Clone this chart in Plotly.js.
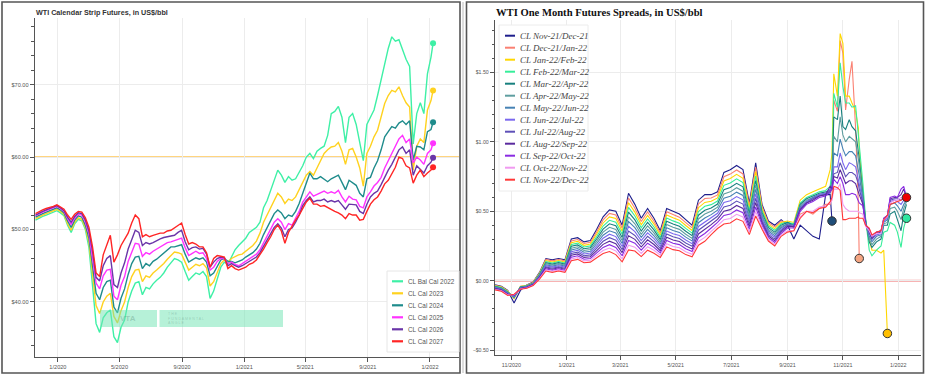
<!DOCTYPE html>
<html><head><meta charset="utf-8">
<script src="https://cdn.plot.ly/plotly-3.0.1.min.js"></script>
<style>html,body{margin:0;padding:0;background:#fff}#chart{width:925px;height:377px}</style>
</head><body><div id="chart"></div>
<script>
// ---------------- LEFT CHART DATA: WTI Calendar Strip Futures (US$/bbl), weekly samples ----------------
const leftDates = [
'2019-11-18','2019-11-25','2019-12-02','2019-12-09','2019-12-16','2019-12-23','2019-12-30',
'2020-01-06','2020-01-13','2020-01-20','2020-01-27','2020-02-03','2020-02-10','2020-02-17','2020-02-24',
'2020-03-02','2020-03-09','2020-03-16','2020-03-23','2020-03-30','2020-04-06','2020-04-13','2020-04-20','2020-04-27',
'2020-05-04','2020-05-11','2020-05-18','2020-05-25','2020-06-01','2020-06-08','2020-06-15','2020-06-22','2020-06-29',
'2020-07-06','2020-07-13','2020-07-20','2020-07-27','2020-08-03','2020-08-10','2020-08-17','2020-08-24','2020-08-31',
'2020-09-07','2020-09-14','2020-09-21','2020-09-28','2020-10-05','2020-10-12','2020-10-19','2020-10-26',
'2020-11-02','2020-11-09','2020-11-16','2020-11-23','2020-11-30','2020-12-07','2020-12-14','2020-12-21','2020-12-28',
'2021-01-04','2021-01-11','2021-01-18','2021-01-25','2021-02-01','2021-02-08','2021-02-15','2021-02-22',
'2021-03-01','2021-03-08','2021-03-15','2021-03-22','2021-03-29','2021-04-05','2021-04-12','2021-04-19','2021-04-26',
'2021-05-03','2021-05-10','2021-05-17','2021-05-24','2021-05-31','2021-06-07','2021-06-14','2021-06-21','2021-06-28',
'2021-07-05','2021-07-12','2021-07-19','2021-07-26','2021-08-02','2021-08-09','2021-08-16','2021-08-23','2021-08-30',
'2021-09-06','2021-09-13','2021-09-20','2021-09-27','2021-10-04','2021-10-11','2021-10-18','2021-10-25',
'2021-11-01','2021-11-08','2021-11-15','2021-11-22','2021-11-29','2021-12-06','2021-12-13','2021-12-20','2021-12-27',
'2022-01-03','2022-01-07'];

const leftNames = ['CL Bal Cal 2022','CL Cal 2023','CL Cal 2024','CL Cal 2025','CL Cal 2026','CL Cal 2027'];

const balCal2022 = [51.3,51.6,51.8,52.0,52.2,52.4,52.6,52.3,51.9,
 50.6,49.6,50.8,51.4,51.2,50.0,47.5,
 42.5,37.0,35.8,37.8,38.5,38.9,35.2,34.4,
 36.5,37.5,40.0,41.5,42.6,42.8,41.0,42.0,41.8,
 42.5,43.0,43.4,44.0,44.8,45.4,46.0,45.8,45.5,
 44.2,43.0,43.5,44.0,43.8,44.2,43.5,40.5,
 41.5,43.2,44.8,45.5,45.2,46.2,47.2,47.8,48.3,
 48.8,49.6,50.0,50.3,51.0,53.0,54.0,55.5,
 57.0,58.2,57.5,56.5,57.3,56.8,57.0,57.8,58.8,
 60.0,60.5,59.8,60.8,61.2,61.5,63.0,66.0,66.3,
 67.0,65.5,62.0,65.5,66.0,64.5,62.0,59.5,64.5,
 65.5,66.5,68.5,70.6,72.5,75.0,76.6,76.0,
 76.2,74.8,73.5,72.5,61.8,66.0,67.5,66.0,71.5,73.8,75.7];
const cal2023 = [51.5,51.8,52.0,52.2,52.4,52.6,52.8,52.5,52.1,
 50.8,49.9,51.0,51.6,51.4,50.3,48.2,
 44.0,39.5,38.4,40.0,40.8,41.2,38.0,37.1,
 38.8,40.0,42.0,43.5,44.4,44.5,42.8,43.6,43.4,
 44.0,44.4,44.8,45.3,45.9,46.4,46.9,46.8,46.6,
 45.5,44.4,44.8,45.2,45.0,45.3,44.7,42.2,
 42.8,44.0,45.3,45.8,45.5,46.0,46.3,46.5,46.6,
 47.0,47.4,47.8,48.4,49.5,51.0,52.0,53.1,
 54.2,55.0,54.5,53.6,54.2,54.0,54.5,55.5,56.5,
 57.5,58.0,57.5,58.5,59.5,60.5,61.0,61.4,61.5,
 62.0,60.8,59.0,61.0,61.2,60.0,58.5,56.0,60.5,
 61.5,62.8,63.7,65.5,67.4,68.5,69.2,69.0,
 69.7,68.5,67.5,66.9,58.2,61.5,62.5,62.0,66.5,67.8,69.2];
const cal2024 = [51.7,52.0,52.2,52.4,52.6,52.8,53.0,52.7,52.3,
 51.2,50.3,51.3,51.9,51.7,50.6,48.8,
 45.3,41.2,40.3,42.0,42.8,43.0,39.3,38.5,
 40.5,41.8,43.8,45.3,46.2,46.3,44.6,45.3,45.0,
 45.6,45.9,46.3,46.7,47.2,47.6,47.6,47.8,47.9,
 46.6,45.5,45.8,46.1,45.9,46.1,45.5,43.6,
 44.0,45.0,45.8,46.0,45.6,45.6,45.4,45.6,45.8,
 46.2,46.5,46.8,47.3,48.1,49.3,50.3,51.3,
 52.2,52.7,52.3,51.5,52.0,51.8,52.5,53.6,55.0,
 56.5,57.8,57.0,57.0,57.3,57.0,56.6,57.0,57.2,
 57.5,56.5,55.5,56.8,56.5,56.1,55.0,54.5,57.0,
 57.2,58.5,59.5,61.0,62.8,63.5,64.2,64.0,
 64.7,65.0,64.5,65.0,59.6,61.5,61.4,61.0,63.5,63.8,64.8];
const cal2025 = [51.9,52.2,52.4,52.6,52.8,53.0,53.2,52.9,52.5,
 51.5,50.7,51.6,52.1,52.0,51.0,49.4,
 46.3,42.6,41.8,43.6,44.4,44.5,40.8,40.3,
 42.3,43.5,45.6,47.0,48.1,48.0,46.3,46.8,46.6,
 47.0,47.3,47.6,47.9,48.2,48.3,48.5,48.7,48.8,
 47.5,46.4,46.7,47.0,46.7,46.8,46.0,44.4,
 44.8,45.6,46.0,46.0,45.3,45.5,45.2,45.0,45.3,
 45.6,46.0,46.2,46.6,47.2,48.2,49.2,50.0,
 51.0,51.5,51.0,50.0,50.8,50.6,51.5,52.5,53.8,
 54.5,55.2,54.6,54.8,55.0,55.3,55.0,55.2,55.0,
 55.4,54.5,53.8,54.6,54.2,54.1,53.2,53.0,54.5,
 55.2,56.0,56.5,57.2,58.5,59.5,60.5,61.5,
 62.5,63.0,62.0,62.5,59.2,60.0,59.6,59.0,60.5,61.0,61.9];
const cal2026 = [52.0,52.3,52.5,52.7,52.9,53.1,53.3,53.0,52.6,
 51.7,51.0,51.8,52.3,52.2,51.3,49.8,
 47.0,43.4,42.9,45.0,46.0,46.4,42.4,42.0,
 44.0,45.4,47.3,48.6,49.9,49.6,47.8,48.2,48.0,
 48.2,48.5,48.7,48.9,49.0,49.0,49.2,49.6,49.9,
 48.3,47.2,47.5,47.6,47.3,47.4,46.6,44.8,
 45.5,46.0,46.2,46.1,45.0,45.3,45.0,44.8,45.0,
 45.3,45.7,45.9,46.2,46.8,47.7,48.6,49.3,
 50.3,50.8,50.2,49.0,50.0,50.2,51.0,52.0,53.3,
 54.0,54.5,53.8,54.0,54.0,54.2,53.8,54.0,53.8,
 54.0,53.4,52.8,53.5,53.4,53.4,52.5,52.2,53.5,
 54.5,55.0,55.3,56.2,57.3,58.2,59.0,60.0,
 61.0,61.4,60.5,61.0,57.5,58.8,58.3,57.8,58.8,59.3,59.9];
const cal2027 = [52.2,52.5,52.7,52.9,53.0,53.2,53.4,53.1,52.8,
 52.0,51.4,52.1,52.5,52.4,51.6,50.3,
 47.6,44.0,43.5,46.5,47.8,49.2,45.5,46.5,
 47.8,48.6,49.5,50.9,52.0,51.5,49.0,49.3,49.0,
 49.2,49.4,49.5,49.5,49.8,49.9,50.2,50.5,50.9,
 49.3,48.0,48.2,48.0,47.6,47.6,46.8,44.8,
 46.0,46.4,46.3,46.2,44.6,45.0,44.6,44.4,44.6,
 44.8,45.2,45.4,45.8,46.5,47.3,48.2,49.0,
 50.0,50.6,49.8,48.1,49.6,50.5,51.3,52.0,53.0,
 53.8,54.3,53.5,53.5,53.2,53.3,53.0,52.8,52.5,
 52.3,52.0,51.5,52.2,52.0,52.0,51.3,51.4,52.5,
 53.5,54.1,54.5,55.3,56.3,56.8,57.8,58.6,
 60.0,59.8,58.8,58.5,56.4,57.5,58.2,57.3,57.8,58.2,58.6];
const leftSeries = [balCal2022, cal2023, cal2024, cal2025, cal2026, cal2027];
const leftColors = ['#3ef0a6','#ffd21f','#1f8c8c','#ff33ff','#6a35a8','#ff2525'];
const leftRefPrice = 60;

// ---------------- RIGHT CHART DATA: WTI One Month Futures Spreads (US$/bbl) ----------------
const rightDates = [
'2020-10-14','2020-10-21','2020-10-28','2020-11-04','2020-11-11','2020-11-18','2020-11-25',
'2020-12-02','2020-12-09','2020-12-16','2020-12-23','2020-12-30',
'2021-01-06','2021-01-13','2021-01-20','2021-01-27','2021-02-03','2021-02-10','2021-02-17','2021-02-24',
'2021-03-03','2021-03-10','2021-03-17','2021-03-24','2021-03-31','2021-04-07','2021-04-14','2021-04-21','2021-04-28',
'2021-05-05','2021-05-12','2021-05-19','2021-05-26','2021-06-02','2021-06-09','2021-06-16','2021-06-23','2021-06-30',
'2021-07-07','2021-07-14','2021-07-21','2021-07-28','2021-08-04','2021-08-11','2021-08-18','2021-08-25',
'2021-09-01','2021-09-08','2021-09-15','2021-09-22','2021-09-29','2021-10-06','2021-10-13',
'2021-10-18','2021-10-20','2021-10-22','2021-10-26','2021-10-29','2021-11-01','2021-11-04','2021-11-08',
'2021-11-11','2021-11-15','2021-11-18','2021-11-19','2021-11-23','2021-11-26','2021-11-30','2021-12-03',
'2021-12-08','2021-12-13','2021-12-16','2021-12-20','2021-12-23','2021-12-28','2021-12-31',
'2022-01-04','2022-01-07','2022-01-10'];

const rightNames = ['CL Nov-21/Dec-21','CL Dec-21/Jan-22','CL Jan-22/Feb-22','CL Feb-22/Mar-22','CL Mar-22/Apr-22',
 'CL Apr-22/May-22','CL May-22/Jun-22','CL Jun-22/Jul-22','CL Jul-22/Aug-22','CL Aug-22/Sep-22','CL Sep-22/Oct-22',
 'CL Oct-22/Nov-22','CL Nov-22/Dec-22'];

const nov21dec21 = [-0.03,-0.04,-0.07,-0.16,-0.07,-0.03,-0.01,0.06,0.16,0.15,
 0.16,0.15,0.30,0.31,0.28,0.29,0.37,0.46,0.51,0.50,
 0.40,0.63,0.55,0.45,0.52,0.45,0.36,0.52,0.50,0.48,
 0.44,0.40,0.58,0.62,0.62,0.64,0.78,0.80,0.83,0.80,
 0.56,0.85,0.55,0.43,0.40,0.44,0.40,0.30,0.40,0.36,
 0.32,0.30,0.62,
 0.62,0.43];
const dec21jan22 = [-0.033,-0.043,-0.073,-0.13,-0.04,-0.032,-0.012,0.056,0.153,0.143,
 0.153,0.143,0.287,0.297,0.268,0.277,0.353,0.438,0.485,0.474,
 0.378,0.596,0.522,0.427,0.495,0.429,0.344,0.497,0.477,0.458,
 0.419,0.381,0.553,0.592,0.596,0.618,0.749,0.768,0.798,0.769,
 0.541,0.818,0.535,0.418,0.388,0.43,0.42,0.38,0.48,0.50,
 0.48,0.52,0.55,
 0.55,0.60,1.30,1.22,1.73,1.64,1.23,1.45,1.58,1.10,0.55,0.16];
const jan22feb22 = [-0.036,-0.046,-0.076,-0.127,-0.042,-0.034,-0.014,0.052,0.145,0.135,
 0.145,0.135,0.274,0.284,0.255,0.264,0.336,0.416,0.46,0.448,
 0.356,0.562,0.494,0.404,0.47,0.408,0.328,0.474,0.454,0.436,
 0.398,0.362,0.526,0.564,0.572,0.596,0.718,0.736,0.766,0.738,
 0.522,0.786,0.52,0.406,0.375,0.42,0.43,0.42,0.58,0.62,
 0.64,0.66,0.68,
 0.80,0.92,1.49,1.33,1.78,1.71,1.33,1.33,1.28,1.22,1.10,0.95,0.62,0.42,0.30,0.22,0.22,0.20,0.22,-0.38];
const feb22mar22 = [-0.039,-0.049,-0.079,-0.124,-0.044,-0.036,-0.016,0.048,0.138,0.128,
 0.138,0.128,0.261,0.271,0.243,0.251,0.319,0.394,0.435,0.422,
 0.334,0.528,0.466,0.381,0.445,0.387,0.312,0.451,0.431,0.414,
 0.377,0.343,0.499,0.536,0.548,0.574,0.687,0.704,0.734,0.707,
 0.503,0.754,0.505,0.394,0.363,0.41,0.42,0.41,0.56,0.60,
 0.62,0.64,0.65,
 0.68,0.80,1.35,1.25,1.57,1.40,1.28,1.28,1.25,1.26,1.08,0.98,0.70,0.45,0.22,0.18,0.22,0.25,0.35,0.36,0.42,0.40,0.35,0.24,0.38,0.45];
const mar22apr22 = [-0.042,-0.052,-0.082,-0.121,-0.046,-0.038,-0.018,0.044,0.13,0.12,
 0.13,0.12,0.248,0.258,0.23,0.238,0.302,0.372,0.41,0.396,
 0.312,0.494,0.438,0.358,0.42,0.366,0.296,0.428,0.408,0.392,
 0.356,0.324,0.472,0.508,0.524,0.552,0.656,0.672,0.702,0.676,
 0.484,0.722,0.49,0.382,0.35,0.40,0.42,0.40,0.55,0.59,
 0.61,0.63,0.64,
 0.65,0.72,1.18,1.16,1.33,1.11,1.09,1.16,1.11,1.08,0.95,0.88,0.62,0.44,0.28,0.24,0.28,0.30,0.40,0.40,0.48,0.50,0.44,0.36,0.48,0.55];
const apr22may22 = [-0.045,-0.055,-0.085,-0.118,-0.048,-0.04,-0.02,0.04,0.123,0.113,
 0.123,0.113,0.235,0.245,0.218,0.225,0.285,0.35,0.385,0.37,
 0.29,0.46,0.41,0.335,0.395,0.345,0.28,0.405,0.385,0.37,
 0.335,0.305,0.445,0.48,0.50,0.53,0.625,0.64,0.67,0.645,
 0.465,0.69,0.475,0.37,0.338,0.39,0.41,0.40,0.54,0.58,
 0.60,0.62,0.63,
 0.64,0.70,1.04,1.00,1.18,1.05,1.00,1.04,1.02,1.00,0.88,0.82,0.60,0.43,0.30,0.26,0.30,0.32,0.41,0.42,0.52,0.53,0.50,0.44,0.52,0.57];
const may22jun22 = [-0.048,-0.058,-0.088,-0.115,-0.05,-0.042,-0.022,0.036,0.115,0.105,
 0.115,0.105,0.222,0.232,0.205,0.212,0.268,0.328,0.36,0.344,
 0.268,0.426,0.382,0.312,0.37,0.324,0.264,0.382,0.362,0.348,
 0.314,0.286,0.418,0.452,0.476,0.508,0.594,0.608,0.638,0.614,
 0.446,0.658,0.46,0.358,0.325,0.38,0.41,0.40,0.53,0.57,
 0.60,0.62,0.63,
 0.63,0.68,0.92,0.90,1.02,0.95,0.90,0.93,0.93,0.90,0.80,0.76,0.58,0.42,0.32,0.28,0.32,0.33,0.42,0.44,0.55,0.56,0.54,0.50,0.55,0.58];
const jun22jul22 = [-0.051,-0.061,-0.091,-0.112,-0.052,-0.044,-0.024,0.032,0.108,0.098,
 0.108,0.098,0.209,0.219,0.193,0.199,0.251,0.306,0.335,0.318,
 0.246,0.392,0.354,0.289,0.345,0.303,0.248,0.359,0.339,0.326,
 0.293,0.267,0.391,0.424,0.452,0.486,0.563,0.576,0.606,0.583,
 0.427,0.626,0.445,0.346,0.313,0.37,0.40,0.39,0.52,0.57,
 0.59,0.62,0.63,
 0.66,0.66,0.82,0.82,0.92,0.85,0.80,0.85,0.84,0.82,0.74,0.70,0.57,0.41,0.34,0.30,0.33,0.34,0.43,0.45,0.57,0.58,0.57,0.55,0.58,0.59];
const jul22aug22 = [-0.054,-0.064,-0.094,-0.109,-0.054,-0.046,-0.026,0.028,0.10,0.09,
 0.10,0.09,0.196,0.206,0.18,0.186,0.234,0.284,0.31,0.292,
 0.224,0.358,0.326,0.266,0.32,0.282,0.232,0.336,0.316,0.304,
 0.272,0.248,0.364,0.396,0.428,0.464,0.532,0.544,0.574,0.552,
 0.408,0.594,0.43,0.334,0.30,0.36,0.40,0.39,0.52,0.56,
 0.59,0.61,0.62,
 0.65,0.66,0.77,0.78,0.85,0.80,0.75,0.78,0.78,0.76,0.70,0.66,0.56,0.41,0.35,0.30,0.34,0.35,0.44,0.46,0.58,0.59,0.59,0.58,0.60,0.60];
const aug22sep22 = [-0.057,-0.067,-0.097,-0.106,-0.056,-0.048,-0.028,0.024,0.093,0.083,
 0.093,0.083,0.183,0.193,0.168,0.173,0.217,0.262,0.285,0.266,
 0.202,0.324,0.298,0.243,0.295,0.261,0.216,0.313,0.293,0.282,
 0.251,0.229,0.337,0.368,0.404,0.442,0.501,0.512,0.542,0.521,
 0.389,0.562,0.415,0.322,0.288,0.35,0.39,0.39,0.51,0.56,
 0.58,0.61,0.62,
 0.68,0.66,0.75,0.74,0.80,0.75,0.70,0.72,0.72,0.70,0.65,0.62,0.55,0.40,0.36,0.31,0.35,0.36,0.45,0.47,0.59,0.60,0.60,0.62,0.66,0.60];
const sep22oct22 = [-0.06,-0.07,-0.10,-0.103,-0.058,-0.05,-0.03,0.02,0.085,0.075,
 0.085,0.075,0.17,0.18,0.155,0.16,0.20,0.24,0.26,0.24,
 0.18,0.29,0.27,0.22,0.27,0.24,0.20,0.29,0.27,0.26,
 0.23,0.21,0.31,0.34,0.38,0.42,0.47,0.48,0.51,0.49,
 0.37,0.53,0.40,0.31,0.275,0.34,0.38,0.38,0.50,0.55,
 0.57,0.60,0.61,
 0.64,0.66,0.73,0.70,0.75,0.70,0.62,0.62,0.63,0.62,0.58,0.56,0.54,0.40,0.37,0.32,0.35,0.36,0.45,0.47,0.60,0.61,0.60,0.66,0.68,0.60];
const oct22nov22 = [-0.063,-0.073,-0.103,-0.10,-0.06,-0.052,-0.032,0.016,0.078,0.068,
 0.078,0.068,0.157,0.167,0.143,0.147,0.183,0.218,0.235,0.214,
 0.158,0.256,0.242,0.197,0.245,0.219,0.184,0.267,0.247,0.238,
 0.209,0.191,0.283,0.312,0.356,0.398,0.439,0.448,0.478,0.459,
 0.351,0.498,0.385,0.298,0.263,0.33,0.36,0.36,0.46,0.50,
 0.50,0.53,0.54,
 0.56,0.58,0.66,0.66,0.70,0.55,0.52,0.50,0.50,0.50,0.50,0.49,0.48,0.39,0.36,0.32,0.34,0.34,0.44,0.46,0.56,0.58,0.58,0.60,0.60,0.60];
const nov22dec22 = [-0.066,-0.076,-0.106,-0.097,-0.062,-0.054,-0.034,0.012,0.07,0.06,
 0.07,0.06,0.144,0.154,0.13,0.134,0.166,0.196,0.21,0.188,
 0.136,0.222,0.214,0.174,0.22,0.198,0.168,0.244,0.224,0.216,
 0.188,0.172,0.256,0.284,0.332,0.376,0.408,0.416,0.446,0.428,
 0.332,0.466,0.37,0.286,0.25,0.32,0.35,0.36,0.45,0.50,
 0.49,0.52,0.53,
 0.57,0.60,0.68,0.67,0.65,0.44,0.44,0.45,0.45,0.45,0.46,0.45,0.45,0.40,0.38,0.33,0.35,0.36,0.44,0.47,0.55,0.56,0.57,0.58,0.60,0.60];
const rightSeries = [nov21dec21,dec21jan22,jan22feb22,feb22mar22,mar22apr22,apr22may22,may22jun22,
 jun22jul22,jul22aug22,aug22sep22,sep22oct22,oct22nov22,nov22dec22];
const rightColors = ['#1e1e8c','#fa8072','#ffd700','#36ee9a','#17807e','#5f9ea0','#4682b4',
 '#7b68ee','#5e50b8','#5a2a9e','#8a2be2','#f09af0','#ff3838'];
// series whose last point carries an end marker, and the marker colours
const rightDotSeries = [0,1,2,3,12];
const rightDotColors = ['#1f4e79','#f4a582','#ffbf00','#2ee6a0','#ee0000'];

// ---------------- BUILD ----------------
const W = 925, H = 377;
const px = x => x / W, py = y => 1 - y / H;
const SANS = 'Liberation Sans, Arial, sans-serif';
const SERIF = 'Liberation Serif, Times New Roman, serif';

const traces = [];
leftSeries.forEach((s, i) => traces.push({
  type: 'scatter', mode: 'lines', x: leftDates, y: s, name: leftNames[i],
  xaxis: 'x', yaxis: 'y', line: {color: leftColors[i], width: 1.4}, hoverinfo: 'skip'
}));
traces.push({
  type: 'scatter', mode: 'markers', xaxis: 'x', yaxis: 'y', hoverinfo: 'skip',
  x: leftSeries.map(() => leftDates[leftDates.length - 1]),
  y: leftSeries.map(s => s[s.length - 1]),
  marker: {color: leftColors, size: 6}
});
rightSeries.forEach((s, i) => traces.push({
  type: 'scatter', mode: 'lines', x: rightDates, y: s, name: rightNames[i],
  xaxis: 'x2', yaxis: 'y2', line: {color: rightColors[i], width: 1.1}, hoverinfo: 'skip'
}));
traces.push({
  type: 'scatter', mode: 'markers', xaxis: 'x2', yaxis: 'y2', hoverinfo: 'skip',
  x: rightDotSeries.map(k => rightDates[rightSeries[k].length - 1]),
  y: rightDotSeries.map(k => rightSeries[k][rightSeries[k].length - 1]),
  marker: {color: rightDotColors, size: 8.5, line: {color: '#333', width: 1}}
});

const axBase = {
  showline: true, linecolor: '#555', linewidth: 1.3, ticks: 'outside', ticklen: 4,
  tickcolor: '#555', tickwidth: 1, showgrid: true, gridcolor: '#ececec', gridwidth: 1,
  zeroline: false, fixedrange: true
};

const shapes = [
  // panel frames
  {type: 'rect', xref: 'paper', yref: 'paper', x0: px(2), x1: px(460), y0: py(373), y1: py(2), line: {color: '#555', width: 1.6}, layer: 'above'},
  {type: 'line', xref: 'paper', yref: 'paper', x0: px(463), x1: px(463), y0: py(373), y1: py(2), line: {color: '#bbb', width: 1}, layer: 'above'},
  {type: 'rect', xref: 'paper', yref: 'paper', x0: px(466.5), x1: px(923.5), y0: py(373), y1: py(2), line: {color: '#555', width: 1.6}, layer: 'above'},
  // reference lines
  {type: 'line', xref: 'x domain', yref: 'y', x0: 0, x1: 1, y0: leftRefPrice, y1: leftRefPrice, line: {color: '#ffd47f', width: 2}, layer: 'below'},
  {type: 'line', xref: 'x2 domain', yref: 'y2', x0: 0, x1: 1, y0: 0, y1: 0, line: {color: 'rgba(240,120,120,0.75)', width: 2}, layer: 'below'},
  // watermark boxes
  {type: 'rect', xref: 'paper', yref: 'paper', x0: px(100), x1: px(157), y0: py(327), y1: py(310), fillcolor: 'rgba(110,228,178,0.5)', line: {width: 0}, layer: 'above'},
  {type: 'rect', xref: 'paper', yref: 'paper', x0: px(159.5), x1: px(283), y0: py(327), y1: py(310), fillcolor: 'rgba(110,228,178,0.5)', line: {width: 0}, layer: 'above'},
  // legend boxes
  {type: 'rect', xref: 'paper', yref: 'paper', x0: px(387), x1: px(459), y0: py(352), y1: py(271), fillcolor: '#fff', line: {color: '#e6e6e6', width: 1}, layer: 'above'},
  {type: 'rect', xref: 'paper', yref: 'paper', x0: px(499), x1: px(588), y0: py(191), y1: py(25), fillcolor: '#fff', line: {color: '#ececec', width: 1}, layer: 'above'}
];

const annotations = [
  {xref: 'paper', yref: 'paper', x: px(34), y: py(12.5), xanchor: 'left', yanchor: 'middle', showarrow: false,
   text: 'WTI Calendar Strip Futures, in US$/bbl', font: {family: SANS, size: 7.2, color: '#333', weight: 'bold'}},
  {xref: 'paper', yref: 'paper', x: px(494), y: py(12.7), xanchor: 'left', yanchor: 'middle', showarrow: false,
   text: 'WTI One Month Futures Spreads, in US$/bbl', font: {family: SERIF, size: 10.6, color: '#111', weight: 'bold'}},
  {xref: 'paper', yref: 'paper', x: px(128), y: py(318.5), xanchor: 'center', yanchor: 'middle', showarrow: false,
   text: 'VTA', font: {family: SANS, size: 8, color: 'rgba(90,140,120,0.35)', weight: 'bold'}},
  {xref: 'paper', yref: 'paper', x: px(166), y: py(318.5), xanchor: 'left', yanchor: 'middle', showarrow: false,
   text: 'T H E<br>F U N D A M E N T A L<br>A N G L E', align: 'left',
   font: {family: SANS, size: 3.6, color: 'rgba(90,140,120,0.35)'}}
];

// left legend (drawn entries)
leftNames.forEach((n, i) => {
  const y = 281.3 + 12 * i;
  shapes.push({type: 'line', xref: 'paper', yref: 'paper', x0: px(392), x1: px(403), y0: py(y), y1: py(y),
    line: {color: leftColors[i], width: 2.2}, layer: 'above'});
  annotations.push({xref: 'paper', yref: 'paper', x: px(405.5), y: py(y), xanchor: 'left', yanchor: 'middle',
    showarrow: false, text: n, font: {family: SANS, size: 6.4, color: '#555'}});
});
// right legend (drawn entries)
rightNames.forEach((n, i) => {
  const y = 35.7 + 12 * i;
  shapes.push({type: 'line', xref: 'paper', yref: 'paper', x0: px(505), x1: px(515), y0: py(y), y1: py(y),
    line: {color: rightColors[i], width: 2}, layer: 'above'});
  annotations.push({xref: 'paper', yref: 'paper', x: px(517.5), y: py(y), xanchor: 'left', yanchor: 'middle',
    showarrow: false, text: n, font: {family: SERIF, size: 9, color: '#444', style: 'italic'}});
});

const layout = {
  width: W, height: H, margin: {l: 0, r: 0, t: 0, b: 0},
  paper_bgcolor: '#fff', plot_bgcolor: '#fff', showlegend: false,
  font: {family: SANS, size: 6, color: '#555'},
  xaxis: Object.assign({}, axBase, {
    domain: [px(35), px(459)], anchor: 'y', type: 'date', range: ['2019-11-17', '2022-02-27'],
    tick0: '2020-01-01', dtick: 'M4', tickformat: '%-m/%Y', tickfont: {family: SANS, size: 5.6, color: '#555'}
  }),
  yaxis: Object.assign({}, axBase, {
    domain: [py(357), py(18)], anchor: 'x', range: [32.4, 79.2], tick0: 0, dtick: 10, tickformat: '$.2f',
    tickfont: {family: SANS, size: 5.6, color: '#555'},
    minor: {ticks: 'outside', ticklen: 2.5, dtick: 2, tickcolor: '#555', showgrid: false}
  }),
  xaxis2: Object.assign({}, axBase, {
    domain: [px(495), px(921)], anchor: 'y2', type: 'date', range: ['2020-10-14', '2022-01-26'],
    tick0: '2020-11-01', dtick: 'M2', tickformat: '%-m/%Y', tickfont: {family: SANS, size: 5.4, color: '#555'}
  }),
  yaxis2: Object.assign({}, axBase, {
    domain: [py(355), py(20)], anchor: 'x2', range: [-0.535, 1.878], tick0: 0, dtick: 0.5, tickformat: '$.2f',
    tickfont: {family: SANS, size: 5.2, color: '#555'},
    minor: {ticks: 'outside', ticklen: 2, dtick: 0.1, tickcolor: '#555', showgrid: false}
  }),
  shapes: shapes,
  annotations: annotations
};

Plotly.newPlot('chart', traces, layout, {displayModeBar: false, staticPlot: true});
</script>
</body></html>
